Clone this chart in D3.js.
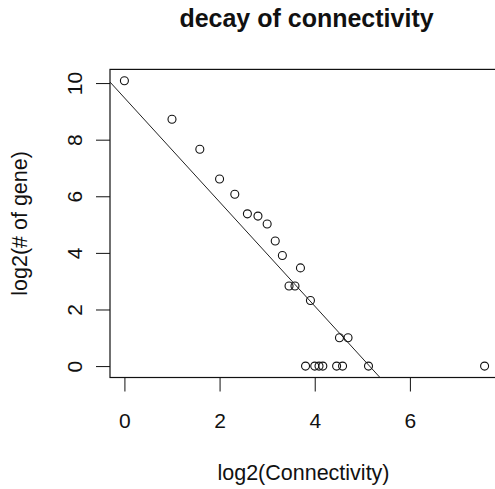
<!DOCTYPE html>
<html>
<head>
<meta charset="utf-8">
<script src="https://cdn.jsdelivr.net/npm/d3@7"></script>
<style>
  body { margin: 0; background: #fff; }
  svg { display: block; font-family: "Liberation Sans", Arial, sans-serif; }
</style>
</head>
<body>
<div id="chart"></div>
<script>
var w = 495;
var h = 489;

// log2(connectivity) and log2(number of genes)
var logK = [0, 1, 1.585, 2, 2.32, 2.585, 2.807, 3.0, 3.17, 3.32, 3.70, 3.46, 3.585, 3.91,
            4.52, 4.70, 3.807, 4.0, 4.09, 4.17, 4.46, 4.585, 5.13, 7.57];
var logN = [10.08, 8.72, 7.66, 6.61, 6.07, 5.38, 5.30, 5.02, 4.42, 3.91, 3.47, 2.83, 2.83, 2.32,
            1.0, 1.0, 0, 0, 0, 0, 0, 0, 0, 0];

// fitted line (abline)
var fitIntercept = 9.48;
var fitSlope = -1.84;

var xTicks = [0, 2, 4, 6];
var yTicks = [0, 2, 4, 6, 8, 10];

var titleText = "decay of connectivity";
var xTitle = "log2(Connectivity)";
var yTitle = "log2(# of gene)";

var dataset = logK.map(function(k, i) { return {x: k, y: logN[i]}; });

// plot region (window.top is reserved, so prefixed names)
var pLeft = 110, pRight = 499, pTop = 69.4, pBottom = 377.5;

// R style 4% padding on the data range
var pad = function(ext) {
  var d = (ext[1] - ext[0]) * 0.04;
  return [ext[0] - d, ext[1] + d];
};

var xScale = d3.scaleLinear()
  .domain(pad(d3.extent(dataset, function(d) { return d.x; })))
  .range([pLeft, pRight]);
var yScale = d3.scaleLinear()
  .domain(pad(d3.extent(dataset, function(d) { return d.y; })))
  .range([pBottom, pTop]);

var svg = d3.select("#chart").append("svg")
  .attr("width", w)
  .attr("height", h);

svg.append("defs").append("clipPath")
  .attr("id", "plotclip")
  .append("rect")
  .attr("x", pLeft).attr("y", pTop)
  .attr("width", pRight - pLeft).attr("height", pBottom - pTop);

// title
svg.append("text")
  .text(titleText)
  .attr("x", (pLeft + pRight) / 2 + 2)
  .attr("y", 27)
  .attr("text-anchor", "middle")
  .attr("font-size", "25px")
  .attr("font-weight", "bold")
  .attr("fill", "#111");

// X axis
var xAxis = d3.axisBottom(xScale).tickValues(xTicks).tickSize(14).tickSizeOuter(0)
  .tickFormat(d3.format("d"));
var gx = svg.append("g")
  .attr("transform", "translate(0," + pBottom + ")")
  .call(xAxis);
gx.select(".domain").remove();
gx.selectAll(".tick line").attr("stroke", "#111");
gx.selectAll(".tick text")
  .attr("y", 50.5)
  .attr("dy", null)
  .attr("font-size", "21px")
  .attr("font-family", null)
  .attr("fill", "#111");

// Y axis
var yAxis = d3.axisLeft(yScale).tickValues(yTicks).tickSize(14).tickSizeOuter(0)
  .tickFormat(d3.format("d"));
var gy = svg.append("g")
  .attr("transform", "translate(" + pLeft + ",0)")
  .call(yAxis);
gy.select(".domain").remove();
gy.selectAll(".tick line").attr("stroke", "#111");
gy.selectAll(".tick text")
  .attr("x", null)
  .attr("dy", null)
  .attr("text-anchor", "middle")
  .attr("transform", "translate(-28,0) rotate(-90)")
  .attr("font-size", "21px")
  .attr("font-family", null)
  .attr("fill", "#111");

// axis titles
svg.append("text")
  .text(xTitle)
  .attr("x", (pLeft + pRight) / 2 - 1)
  .attr("y", 480)
  .attr("text-anchor", "middle")
  .attr("font-size", "21.5px")
  .attr("fill", "#111");

svg.append("text")
  .text(yTitle)
  .attr("transform", "translate(27," + (pTop + pBottom) / 2 + ") rotate(-90)")
  .attr("text-anchor", "middle")
  .attr("font-size", "21.5px")
  .attr("fill", "#111");

// box
svg.append("rect")
  .attr("x", pLeft).attr("y", pTop)
  .attr("width", pRight - pLeft).attr("height", pBottom - pTop)
  .attr("fill", "none")
  .attr("stroke", "#111")
  .attr("stroke-width", 1.2);

// regression line
var xd = xScale.domain();
svg.append("line")
  .attr("clip-path", "url(#plotclip)")
  .attr("x1", xScale(xd[0]))
  .attr("y1", yScale(fitIntercept + fitSlope * xd[0]))
  .attr("x2", xScale(xd[1]))
  .attr("y2", yScale(fitIntercept + fitSlope * xd[1]))
  .attr("stroke", "#222")
  .attr("stroke-width", 1);

// points
svg.selectAll("circle.pt")
  .data(dataset)
  .enter()
  .append("circle")
  .attr("class", "pt")
  .attr("cx", function(d) { return xScale(d.x); })
  .attr("cy", function(d) { return yScale(d.y); })
  .attr("r", 4)
  .attr("fill", "none")
  .attr("stroke", "#111")
  .attr("stroke-width", 1.1);
</script>
</body>
</html>
